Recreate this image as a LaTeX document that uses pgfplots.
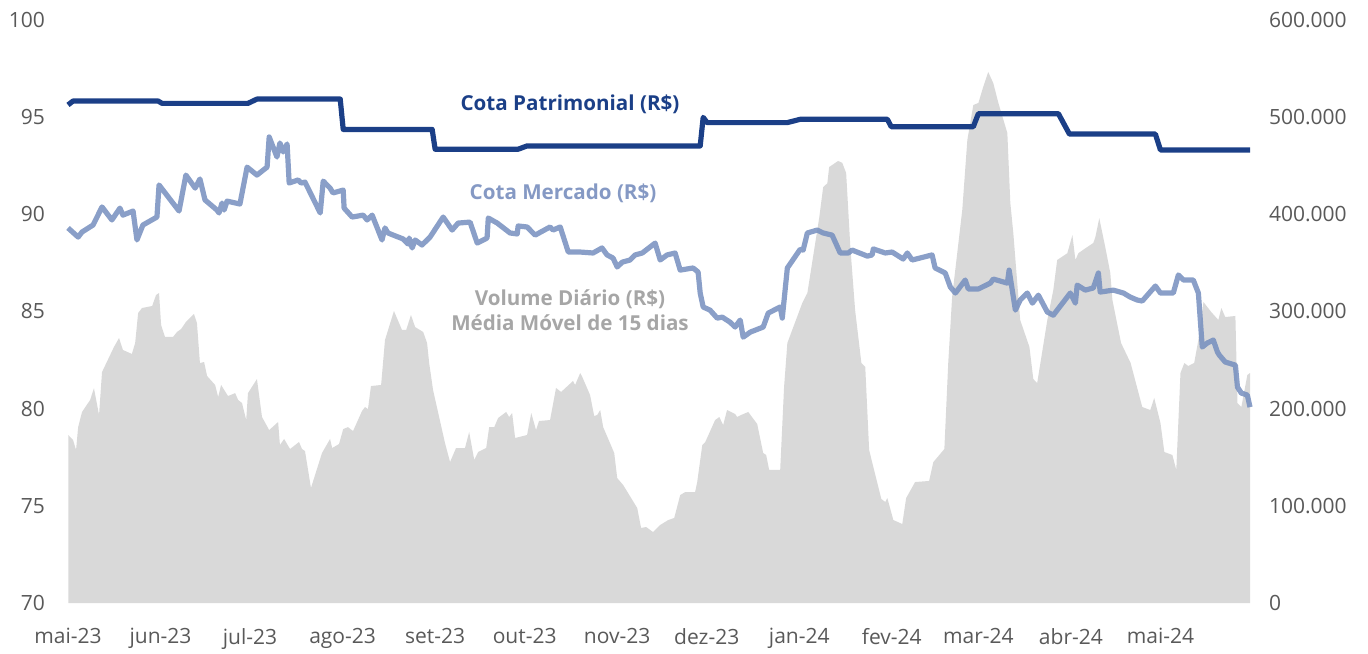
\documentclass[border=0pt]{standalone}
\usepackage{pgfplots}
\pgfplotsset{compat=1.18}
\usepackage{fontspec}
\setmainfont{Open Sans}
\definecolor{patr}{HTML}{1B3F87}
\definecolor{merc}{HTML}{758EBE}
\definecolor{merctxt}{HTML}{8599C4}
\definecolor{vol}{HTML}{D9D9D9}
\definecolor{tick}{HTML}{595959}
\definecolor{voltxt}{HTML}{A6A6A6}
\begin{document}
\begin{tikzpicture}
\path[use as bounding box] (-34pt,-25pt) rectangle (650pt,301.5pt);
\pgfplotsset{
  base/.style={
    at={(0,0)}, anchor=south west,
    scale only axis, width=591pt, height=291.5pt,
    xmin=0, xmax=396,
    axis line style={draw=none},
    major tick length=0pt,
    tick label style={font=\fontsize{10.5}{12}\selectfont, text=tick},
    /pgf/number format/assume math mode=true,
    clip=false,
  }
}
% volume (right axis)
\begin{axis}[base,
  axis y line*=right,
  ymin=0, ymax=600000,
  ytick={0,100000,200000,300000,400000,500000,600000},
  scaled y ticks=false,
  yticklabel style={/pgf/number format/fixed, /pgf/number format/precision=0, /pgf/number format/1000 sep={.}, xshift=6pt},
  xtick={0,31,61,92,123,153,184,214,245,276,305,336,366},
  xticklabels={mai-23,jun-23,jul-23,ago-23,set-23,out-23,nov-23,dez-23,jan-24,fev-24,mar-24,abr-24,mai-24},
  xticklabel style={yshift=-9pt},
]
\addplot[fill=vol, draw=none] coordinates {
(0.1,172900)(1.7,167700)(2.7,157500)(3.4,181000)(4.7,196600)(7.4,208900)(8.7,221000)(10.4,193500)
(11.4,237700)(15.4,263500)(17.1,272700)(18.4,260400)(21.4,256300)(22.5,267600)(23.5,298500)(24.8,303600)
(28.2,305700)(29.5,317000)(30.5,319000)(31.2,286000)(32.5,273800)(35.2,273800)(36.5,278900)(37.9,282000)
(39.5,289200)(42.2,297400)(43.2,288200)(44.2,247000)(45.6,248000)(46.6,233600)(49.3,224400)(50.3,212000)
(51.3,224400)(53.6,213000)(56.0,216000)(57.0,209000)(58.3,205800)(59.7,188300)(60.3,216000)(63.3,230500)
(65.0,191400)(67.4,178000)(70.4,186300)(71.0,162600)(72.4,168800)(74.4,158500)(77.4,165700)(78.4,158500)
(79.4,156400)(81.4,118400)(85.1,154400)(87.8,168800)(88.5,159500)(90.8,163600)(92.2,179000)(93.8,181000)
(95.5,177000)(98.5,197600)(99.5,201700)(100.5,199600)(101.5,223300)(104.9,224400)(106.2,270700)(109.2,300500)
(111.9,281000)(113.3,281000)(114.9,296400)(116.3,284000)(119.0,278900)(120.3,267600)(121.0,247000)(122.3,219200)
(126.3,164700)(128.0,145100)(130.0,159500)(133.0,159500)(134.4,176000)(136.1,147200)(137.4,155400)(140.1,159500)
(141.1,181000)(142.8,181000)(144.1,190400)(146.8,196600)(147.8,191400)(148.8,195500)(149.8,169800)(153.8,172900)
(155.2,195500)(156.8,178000)(157.8,187300)(161.5,188300)(163.5,221300)(165.2,217200)(169.2,228500)(169.9,224400)
(171.6,236700)(172.3,232600)(174.9,214100)(176.3,192400)(177.3,193500)(178.3,198600)(179.3,181000)(183.0,154400)
(184.0,128600)(186.0,121400)(190.7,97800)(192.0,77200)(193.7,78200)(196.0,73000)(198.4,80300)(201.1,85400)
(203.1,87500)(205.1,111100)(206.8,114200)(210.1,114200)(210.8,124500)(212.5,162600)(213.5,165700)(216.8,188300)
(218.2,191400)(219.5,183200)(220.8,198600)(223.5,194500)(224.2,191400)(225.5,193500)(227.9,196600)(230.9,184200)
(232.9,154400)(233.9,152300)(234.9,136900)(238.6,136900)(239.9,222300)(241.0,267600)(246.0,308700)(247.7,319000)
(251.7,397000)(253.0,428000)(254.4,432000)(255.0,448700)(258.0,454900)(259.4,453000)(260.7,442500)(262.1,366400)
(263.7,301500)(265.8,247000)(267.1,243000)(268.4,157500)(269.8,140000)(272.5,107000)(273.8,104000)(274.5,108000)
(276.5,85400)(279.5,81300)(280.8,108000)(283.8,124500)(288.5,125600)(289.9,145000)(293.6,158500)(294.9,247000)
(296.2,315000)(299.6,404500)(301.3,476500)(303.3,512500)(305.0,514600)(306.6,531000)(308.3,546500)(310.0,535000)
(311.7,514600)(314.7,483700)(315.7,411700)(316.7,380800)(319.0,291300)(322.1,263500)(323.4,230500)(324.7,226400)
(328.1,291300)(330.1,322000)(331.4,353000)(334.8,360000)(336.5,378700)(337.5,353000)(338.5,360000)(340.8,365000)
(343.5,370500)(344.2,376700)(345.5,396000)(347.5,366400)(349.2,339600)(349.9,311800)(352.8,267600)(356.0,247000)
(359.9,201700)(362.6,198600)(363.9,211000)(366.0,185200)(367.3,155400)(370.0,152300)(371.3,136900)(372.7,236700)
(374.0,247000)(375.3,243900)(377.3,247000)(378.7,270700)(380.4,309800)(383.0,299500)(385.4,291300)(386.4,303600)
(387.7,294300)(391.1,295400)(391.8,205800)(393.1,201700)(395.1,234600)(396.0,236700)
} \closedcycle;
\end{axis}
% quotas (left axis)
\begin{axis}[base,
  axis y line*=left,
  ymin=70, ymax=100,
  ytick={70,75,80,85,90,95,100},
  yticklabel style={xshift=-8pt},
  xtick=\empty,
]
\addplot[merc, draw opacity=0.85, line width=2.6pt, line join=round] coordinates {
(0,89.30)(3.4,88.83)(4.7,89.09)(8.4,89.45)(11.4,90.38)(14.7,89.71)(17.4,90.32)(18.4,89.96)
(21.8,90.17)(23.1,88.68)(25.1,89.45)(29.8,89.86)(30.5,91.51)(31.8,91.25)(37.2,90.17)(39.5,92.02)
(42.6,91.35)(44.2,91.82)(45.9,90.74)(49.9,90.22)(50.6,90.07)(51.6,90.58)(52.3,90.22)(53.3,90.68)
(57.6,90.53)(60.0,92.43)(63.3,92.02)(66.7,92.43)(67.4,93.98)(70.0,92.95)(71.0,93.67)(72.1,93.21)
(73.4,93.62)(74.1,91.61)(77.1,91.77)(78.1,91.61)(79.4,91.66)(84.5,90.07)(85.5,91.71)(87.8,91.35)
(88.8,91.10)(92.2,91.25)(92.5,90.32)(95.2,89.86)(98.9,89.96)(100.2,89.71)(101.9,89.96)(105.2,88.68)
(106.2,89.30)(107.2,89.04)(112.3,88.73)(113.9,88.47)(114.3,88.78)(115.3,88.27)(116.3,88.68)(118.6,88.42)
(121.3,88.83)(125.7,89.86)(128.7,89.19)(130.7,89.55)(134.7,89.60)(137.1,88.52)(140.4,88.78)(140.8,89.81)
(143.8,89.55)(148.1,89.04)(150.5,88.99)(150.8,89.40)(153.8,89.35)(156.5,88.93)(161.5,89.35)(162.5,89.19)
(164.9,89.35)(167.6,88.06)(171.6,88.06)(175.9,88.01)(178.9,88.27)(180.6,87.91)(182.6,87.75)(184.0,87.29)
(185.7,87.54)(188.3,87.65)(190.0,87.91)(192.4,88.01)(196.7,88.52)(198.4,87.65)(200.7,87.91)(203.4,88.01)
(205.1,87.13)(209.4,87.24)(211.1,87.03)(211.8,85.95)(212.8,85.23)(215.1,85.07)(217.5,84.66)(219.2,84.71)
(221.8,84.45)(223.5,84.20)(225.2,84.56)(226.2,83.68)(228.6,83.94)(232.9,84.20)(234.6,84.92)(238.6,85.23)
(239.3,84.66)(241.0,87.24)(245.3,88.20)(246.3,88.16)(247.7,89.04)(251.0,89.19)(253.0,89.04)(256.0,88.93)
(258.7,88.01)(261.4,88.01)(262.7,88.16)(267.8,87.85)(269.4,87.91)(269.8,88.22)(273.8,88.01)(276.1,88.06)
(279.8,87.70)(281.2,88.01)(282.8,87.65)(289.5,87.91)(290.5,87.24)(293.9,86.98)(295.6,86.26)(297.3,85.95)
(300.6,86.62)(301.6,86.16)(305.0,86.16)(309.0,86.46)(310.0,86.67)(314.7,86.46)(315.3,87.13)(317.4,85.07)
(319.0,85.59)(321.4,85.95)(323.1,85.43)(325.1,85.84)(328.1,84.97)(330.1,84.81)(335.8,85.95)(337.5,85.43)
(338.1,86.36)(340.8,86.10)(343.5,86.21)(345.2,86.98)(345.8,86.00)(350.2,86.10)(353.6,85.95)(355.9,85.74)
(358.2,85.59)(359.9,85.54)(364.3,86.31)(366.0,85.95)(370.3,85.95)(372.0,86.88)(373.7,86.62)(377.0,86.62)
(378.7,85.95)(380.0,83.17)(381.7,83.38)(383.7,83.53)(385.1,82.91)(385.7,82.76)(387.7,82.40)(391.1,82.24)
(391.8,81.11)(393.1,80.80)(395.1,80.70)(396.0,80.08)
};
\addplot[patr, line width=2.6pt, line join=round] coordinates {
(0,95.63)(1.7,95.83)(30.2,95.83)(31.5,95.71)(60.3,95.71)(63.3,95.93)(91.2,95.93)(92.2,94.37)
(122,94.37)(123,93.35)(150.8,93.35)(153.8,93.52)(211.8,93.52)(212.8,94.99)(214.1,94.72)(241,94.72)
(245.3,94.89)(274.5,94.89)(275.8,94.51)(303.3,94.51)(305,95.18)(331.8,95.18)(335.5,94.13)(364.3,94.13)
(366,93.31)(396,93.31)
};
\node[font=\fontsize{10.3}{12}\selectfont\bfseries, text=patr] at (rel axis cs:0.4247,0.8558) {Cota Patrimonial (R\$)};
\node[font=\fontsize{10.3}{12}\selectfont\bfseries, text=merctxt] at (rel axis cs:0.4188,0.703) {Cota Mercado (R\$)};
\node[font=\fontsize{10.3}{12.5}\selectfont\bfseries, text=voltxt, align=center] at (rel axis cs:0.4247,0.5026) {Volume Diário (R\$)\\Média Móvel de 15 dias};
\end{axis}
\end{tikzpicture}
\end{document}
